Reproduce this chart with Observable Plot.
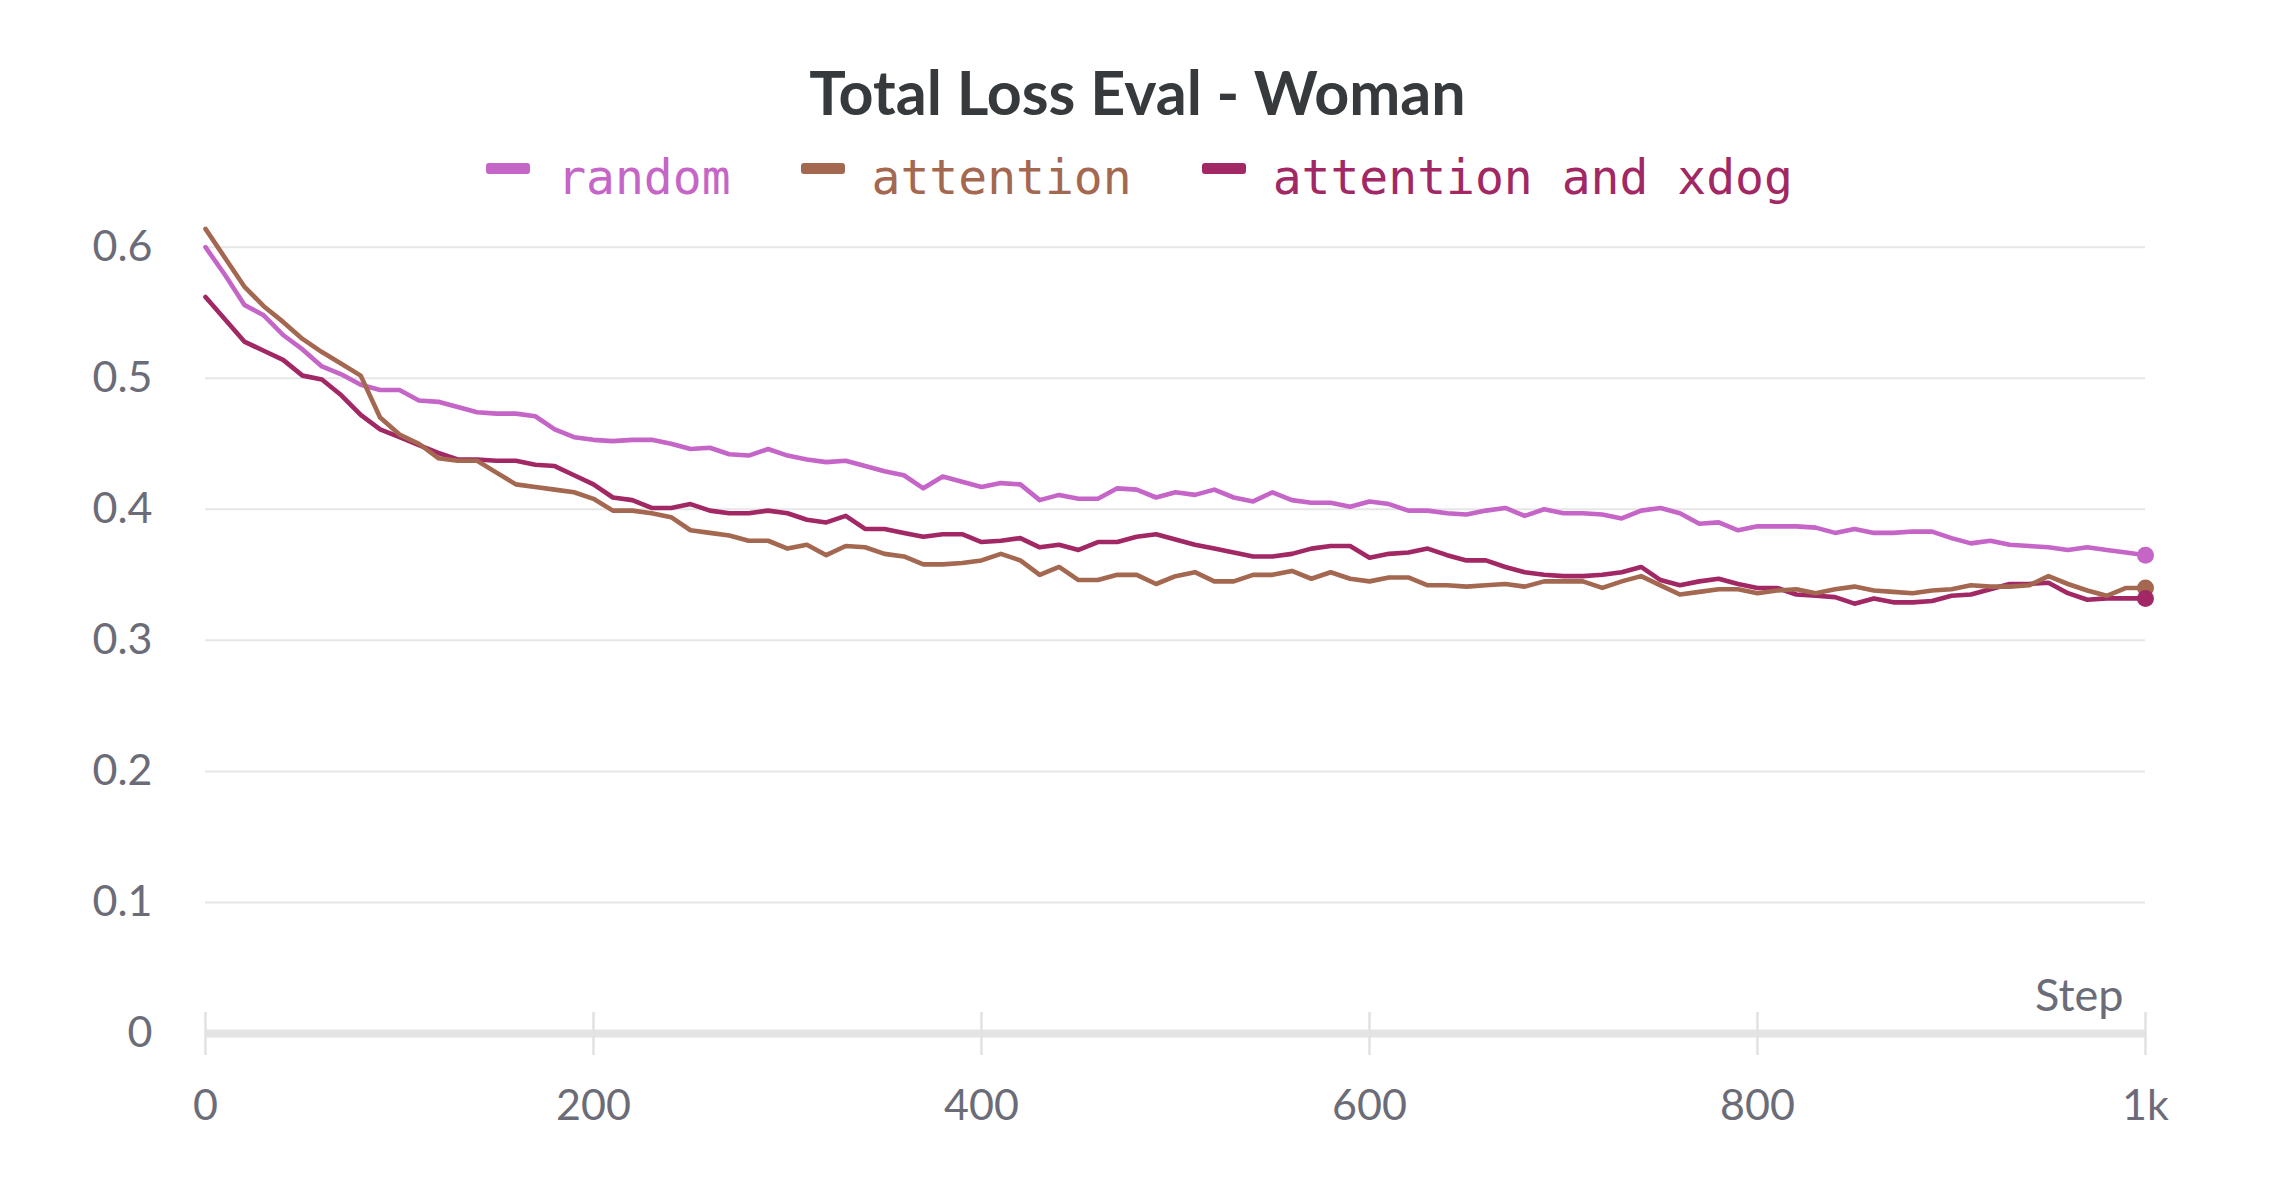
<!DOCTYPE html>
<html><head><meta charset="utf-8">
<script src="https://cdn.jsdelivr.net/npm/d3@7"></script>
<script src="https://cdn.jsdelivr.net/npm/@observablehq/plot@0.6"></script>
<style>
body{margin:0;background:#fff;}
#head{position:relative;width:2275px;height:200px;}
#title{position:absolute;left:0;width:2275px;top:61px;text-align:center;font:700 61px/1 Lato;color:#363a3d;}
#legend{position:absolute;left:2px;width:2275px;top:153px;display:flex;justify-content:center;gap:70px;font:48px/1 "DejaVu Sans Mono";}
.item{display:flex;align-items:center;gap:27px;}
.sw{width:44px;height:11px;border-radius:3px;position:relative;top:-9px;}
</style></head><body>
<div id="head"><div id="title">Total Loss Eval - Woman</div><div id="legend"></div></div>
<div id="chart"></div>
<script>
const title = "Total Loss Eval - Woman";
const seriesNames = ["random", "attention", "attention and xdog"];
const seriesColors = ["#c565c7", "#a46750", "#a12864"];
const steps = d3.range(0, 1001, 10);
const xTicks = [0, 200, 400, 600, 800, 1000];
const xTickLabels = ["0", "200", "400", "600", "800", "1k"];
const yTicks = [0, 0.1, 0.2, 0.3, 0.4, 0.5, 0.6];
const yTickLabels = ["0", "0.1", "0.2", "0.3", "0.4", "0.5", "0.6"];
const xLabel = "Step";

const random = [
0.600,0.579,0.556,0.548,0.533,0.522,0.509,0.503,0.495,0.491,
0.491,0.483,0.482,0.478,0.474,0.473,0.473,0.471,0.461,0.455,
0.453,0.452,0.453,0.453,0.450,0.446,0.447,0.442,0.441,0.446,
0.441,0.438,0.436,0.437,0.433,0.429,0.426,0.416,0.425,0.421,
0.417,0.420,0.419,0.407,0.411,0.408,0.408,0.416,0.415,0.409,
0.413,0.411,0.415,0.409,0.406,0.413,0.407,0.405,0.405,0.402,
0.406,0.404,0.399,0.399,0.397,0.396,0.399,0.401,0.395,0.400,
0.397,0.397,0.396,0.393,0.399,0.401,0.397,0.389,0.390,0.384,
0.387,0.387,0.387,0.386,0.382,0.385,0.382,0.382,0.383,0.383,
0.378,0.374,0.376,0.373,0.372,0.371,0.369,0.371,0.369,0.367,
0.365];
const attention = [
0.614,0.592,0.570,0.555,0.543,0.530,0.520,0.511,0.502,0.470,
0.457,0.450,0.439,0.437,0.437,0.428,0.419,0.417,0.415,0.413,
0.408,0.399,0.399,0.397,0.394,0.384,0.382,0.380,0.376,0.376,
0.370,0.373,0.365,0.372,0.371,0.366,0.364,0.358,0.358,0.359,
0.361,0.366,0.361,0.350,0.356,0.346,0.346,0.350,0.350,0.343,
0.349,0.352,0.345,0.345,0.350,0.350,0.353,0.347,0.352,0.347,
0.345,0.348,0.348,0.342,0.342,0.341,0.342,0.343,0.341,0.345,
0.345,0.345,0.340,0.345,0.349,0.342,0.335,0.337,0.339,0.339,
0.336,0.338,0.339,0.336,0.339,0.341,0.338,0.337,0.336,0.338,
0.339,0.342,0.341,0.341,0.342,0.349,0.343,0.338,0.334,0.340,
0.340];
const xdog = [
0.562,0.545,0.528,0.521,0.514,0.502,0.499,0.487,0.472,0.461,
0.455,0.449,0.443,0.438,0.438,0.437,0.437,0.434,0.433,0.426,
0.419,0.409,0.407,0.401,0.401,0.404,0.399,0.397,0.397,0.399,
0.397,0.392,0.390,0.395,0.385,0.385,0.382,0.379,0.381,0.381,
0.375,0.376,0.378,0.371,0.373,0.369,0.375,0.375,0.379,0.381,
0.377,0.373,0.370,0.367,0.364,0.364,0.366,0.370,0.372,0.372,
0.363,0.366,0.367,0.370,0.365,0.361,0.361,0.356,0.352,0.350,
0.349,0.349,0.350,0.352,0.356,0.346,0.342,0.345,0.347,0.343,
0.340,0.340,0.335,0.334,0.333,0.328,0.332,0.329,0.329,0.330,
0.334,0.335,0.339,0.343,0.343,0.344,0.336,0.331,0.332,0.332,
0.332];

const seriesValues = [random, attention, xdog];
const rows = seriesNames.map((name, k) => seriesValues[k].map((v, i) => ({step: steps[i], value: v, series: name})));
const lastPoints = rows.map(r => r[r.length - 1]);

document.getElementById("title").textContent = title;
const legend = document.getElementById("legend");
seriesNames.forEach((name, k) => {
  const item = document.createElement("div");
  item.className = "item";
  const sw = document.createElement("div");
  sw.className = "sw";
  sw.style.background = seriesColors[k];
  const tx = document.createElement("span");
  tx.textContent = name;
  tx.style.color = seriesColors[k];
  item.append(sw, tx);
  legend.append(item);
});

const chart = Plot.plot({
  width: 2275, height: 995,
  marginLeft: 205, marginRight: 130, marginTop: 46.7, marginBottom: 162,
  x: {domain: [0, 1000]},
  y: {domain: [0, 0.6]},
  color: {domain: seriesNames, range: seriesColors},
  style: {fontFamily: "Lato", fontSize: "43px", color: "#6b6c78", background: "#fff", overflow: "visible"},
  marks: [
    Plot.gridY(yTicks.filter(d => d > 0), {stroke: "#e6e6e6", strokeOpacity: 1, strokeWidth: 2}),
    Plot.ruleY([0], {stroke: "#e4e4e4", strokeWidth: 8}),
    Plot.ruleX(xTicks, {x: d => d, y1: 0, y2: 0, insetTop: -21, insetBottom: -22, stroke: "#e2e2e2", strokeWidth: 2.5}),
    Plot.axisY({ticks: yTicks, tickSize: 0, tickPadding: 53, label: null, tickFormat: d => yTickLabels[yTicks.indexOf(d)], fill: "#6b6c78"}),
    Plot.axisX({ticks: xTicks, tickSize: 0, tickPadding: 56, label: null, tickFormat: d => xTickLabels[xTicks.indexOf(d)], fill: "#6b6c78"}),
    Plot.text([xLabel], {frameAnchor: "bottom-right", text: d => d, dx: -22, dy: -23, textAnchor: "end", lineAnchor: "bottom", fill: "#6b6c78", fontSize: 45}),
    Plot.line(rows[2], {x: "step", y: "value", stroke: "series", strokeWidth: 4.6, strokeLinejoin: "round"}),
    Plot.line(rows[0], {x: "step", y: "value", stroke: "series", strokeWidth: 4.6, strokeLinejoin: "round"}),
    Plot.line(rows[1], {x: "step", y: "value", stroke: "series", strokeWidth: 4.6, strokeLinejoin: "round"}),
    Plot.dot(lastPoints, {x: "step", y: "value", fill: "series", r: 8.5})
  ]
});
document.getElementById("chart").append(chart);
</script>
</body></html>
